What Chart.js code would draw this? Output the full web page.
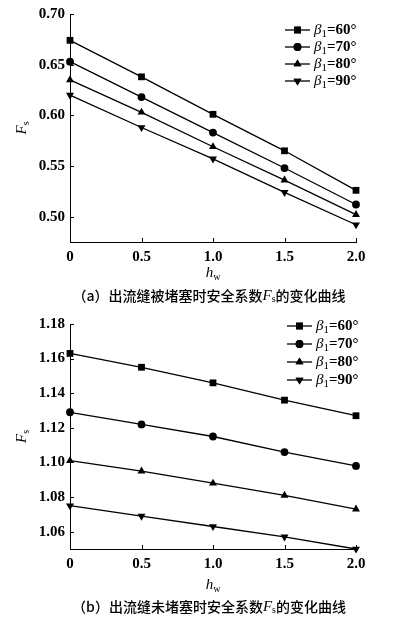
<!DOCTYPE html>
<html>
<head>
<meta charset="utf-8">
<script src="https://cdn.jsdelivr.net/npm/chart.js@4.4.1/dist/chart.umd.min.js"></script>
<style>
  body { margin: 0; background: #fff; }
  canvas { display: block; }
</style>
</head>
<body>
<canvas id="chartA" width="396" height="310"></canvas>
<canvas id="chartB" width="396" height="310"></canvas>
<script>
// h_w values on the x axis
const hw = [0, 0.5, 1.0, 1.5, 2.0];
const betaNames = ['60°', '70°', '80°', '90°'];

// (a) outflow seam blocked
const fsBlocked60 = [0.674, 0.638, 0.601, 0.565, 0.526];
const fsBlocked70 = [0.653, 0.618, 0.583, 0.548, 0.512];
const fsBlocked80 = [0.635, 0.603, 0.569, 0.536, 0.502];
const fsBlocked90 = [0.620, 0.588, 0.557, 0.524, 0.492];

// (b) outflow seam not blocked
const fsOpen60 = [1.163, 1.155, 1.146, 1.136, 1.127];
const fsOpen70 = [1.129, 1.122, 1.115, 1.106, 1.098];
const fsOpen80 = [1.101, 1.095, 1.088, 1.081, 1.073];
const fsOpen90 = [1.075, 1.069, 1.063, 1.057, 1.050];

const xTicks = [0, 0.5, 1.0, 1.5, 2.0];
const yTicksA = [0.50, 0.55, 0.60, 0.65, 0.70];
const yTicksB = [1.06, 1.08, 1.10, 1.12, 1.14, 1.16, 1.18];

const markers = [
  { style: 'rect', radius: 4.8, rot: 0 },
  { style: 'circle', radius: 3.9, rot: 0 },
  { style: 'triangle', radius: 4.6, rot: 0 },
  { style: 'triangle', radius: 4.6, rot: 180 }
];

const serif = '"Liberation Serif", "DejaVu Serif", serif';
const cjk = '"Noto Sans CJK SC", sans-serif';

function makeSets(series) {
  return series.map((vals, i) => ({
    label: 'β1=' + betaNames[i],
    data: vals.map((v, j) => ({ x: hw[j], y: v })),
    borderColor: '#000',
    backgroundColor: '#000',
    borderWidth: 1.3,
    pointStyle: markers[i].style,
    pointRadius: markers[i].radius,
    pointRotation: markers[i].rot,
    pointBorderWidth: 0,
    tension: 0,
    clip: false
  }));
}

// draws a list of text runs, e.g. italic F + subscript s
function drawRuns(ctx, runs, x, y, align) {
  let w = 0;
  runs.forEach(r => { ctx.font = r.font; w += ctx.measureText(r.t).width; });
  let cx = align === 'center' ? x - w / 2 : x;
  ctx.textAlign = 'left';
  ctx.textBaseline = 'middle';
  runs.forEach(r => {
    ctx.font = r.font;
    ctx.fillText(r.t, cx, y + (r.dy || 0));
    cx += ctx.measureText(r.t).width;
  });
}

const extras = {
  id: 'extras',
  afterDraw(chart, args, opts) {
    const ctx = chart.ctx;
    const xs = chart.scales.x, ys = chart.scales.y;
    ctx.save();
    ctx.strokeStyle = '#000';
    ctx.fillStyle = '#000';
    ctx.lineWidth = 1;
    // inward ticks
    ctx.beginPath();
    xs.ticks.forEach(t => {
      const px = Math.round(xs.getPixelForValue(t.value)) + 0.5;
      ctx.moveTo(px, xs.top);
      ctx.lineTo(px, xs.top - 4);
    });
    ys.ticks.forEach(t => {
      const py = Math.round(ys.getPixelForValue(t.value)) + 0.5;
      ctx.moveTo(ys.right, py);
      ctx.lineTo(ys.right + 4, py);
    });
    ctx.stroke();

    // y title F_s
    ctx.save();
    ctx.translate(22, (ys.top + ys.bottom) / 2);
    ctx.rotate(-Math.PI / 2);
    drawRuns(ctx, [
      { t: 'F', font: 'italic 15px ' + serif },
      { t: 's', font: '10px ' + serif, dy: 4 }
    ], 0, 0, 'center');
    ctx.restore();

    // x title h_w
    drawRuns(ctx, [
      { t: 'h', font: 'italic 15px ' + serif },
      { t: 'w', font: '10px ' + serif, dy: 4 }
    ], (xs.left + xs.right) / 2, opts.xTitleY, 'center');

    // caption
    drawRuns(ctx, [
      { t: opts.capHead, font: '500 14px ' + cjk },
      { t: 'F', font: 'italic 15px ' + serif },
      { t: 's', font: '10px ' + serif, dy: 3 },
      { t: '的变化曲线', font: '500 14px ' + cjk }
    ], 209, opts.captionY, 'center');

    // legend: line + marker + label
    chart.data.datasets.forEach((ds, i) => {
      const ly = opts.legendY + i * opts.legendStep;
      ctx.beginPath();
      ctx.lineWidth = 1.3;
      ctx.moveTo(opts.legendX, ly);
      ctx.lineTo(opts.legendX + 25, ly);
      ctx.stroke();
      Chart.helpers.drawPoint(ctx, {
        pointStyle: ds.pointStyle, radius: ds.pointRadius,
        rotation: ds.pointRotation, borderWidth: 0
      }, opts.legendX + 12.5, ly);
      ctx.fill();
      drawRuns(ctx, [
        { t: 'β', font: 'italic 15px ' + serif },
        { t: '1', font: '11px ' + serif, dy: 4 },
        { t: '=' + betaNames[i], font: 'bold 15px ' + serif }
      ], opts.legendX + 29, ly, 'left');
    });
    ctx.restore();
  }
};

function makeChart(id, series, yMin, yMax, yTicks, xAxisH, topPad, opts) {
  return new Chart(document.getElementById(id), {
    type: 'line',
    data: { datasets: makeSets(series) },
    options: {
      responsive: false,
      animation: false,
      layout: { padding: { left: 0, right: 40, top: topPad, bottom: 0 } },
      plugins: { legend: { display: false }, tooltip: { enabled: false }, extras: opts },
      scales: {
        x: {
          type: 'linear', min: 0, max: 2.0,
          afterBuildTicks: s => { s.ticks = xTicks.map(v => ({ value: v })); },
          afterFit: s => { s.height = xAxisH; },
          grid: { display: false, drawTicks: false },
          border: { display: true, color: '#000', width: 1 },
          ticks: {
            color: '#000', padding: 6,
            font: { family: serif, size: 15, weight: 'bold' },
            callback: v => v === 0 ? '0' : v.toFixed(1)
          }
        },
        y: {
          min: yMin, max: yMax,
          afterBuildTicks: s => { s.ticks = yTicks.map(v => ({ value: v })); },
          afterFit: s => { s.width = 70; },
          grid: { display: false, drawTicks: false },
          border: { display: true, color: '#000', width: 1 },
          ticks: {
            color: '#000', padding: 5,
            font: { family: serif, size: 15, weight: 'bold' },
            callback: v => v.toFixed(2)
          }
        }
      }
    },
    plugins: [extras]
  });
}

makeChart('chartA', [fsBlocked60, fsBlocked70, fsBlocked80, fsBlocked90],
  0.475, 0.70, yTicksA, 68, 13, {
    xTitleY: 273, captionY: 296, capHead: '（a）出流缝被堵塞时安全系数',
    legendX: 285, legendY: 30, legendStep: 17
  });

makeChart('chartB', [fsOpen60, fsOpen70, fsOpen80, fsOpen90],
  1.05, 1.18, yTicksB, 71, 10, {
    xTitleY: 275, captionY: 297, capHead: '（b）出流缝未堵塞时安全系数',
    legendX: 287, legendY: 16, legendStep: 18
  });
</script>
</body>
</html>
